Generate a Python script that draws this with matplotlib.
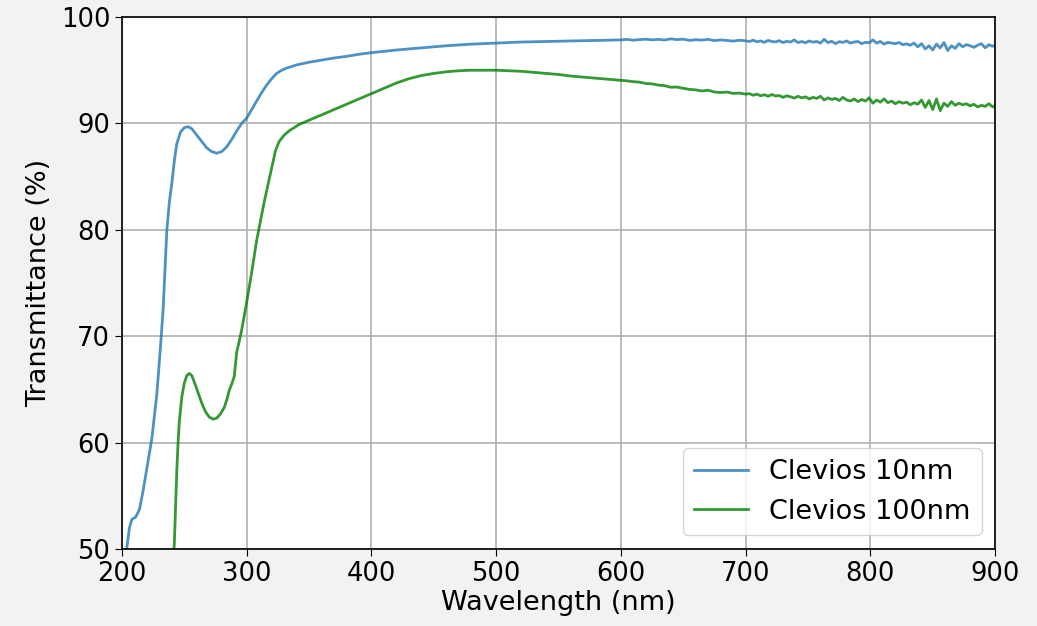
import numpy as np
import matplotlib
matplotlib.use("Agg")
import matplotlib.pyplot as plt

# Clevios 10nm
wl_10 = [203, 204, 206, 208, 211, 214, 217, 220, 224, 228, 231, 233, 236, 238, 240, 242, 244, 247,
         250, 253, 256, 260, 264, 268, 272, 276, 280, 284, 288, 292, 296, 300, 304, 308, 312, 316,
         320, 324, 328, 332, 336, 340, 350, 360, 370, 380, 390, 400, 420, 440, 460, 480, 500, 520,
         540, 560, 580, 600, 605, 610, 615, 620, 625, 630, 635, 640, 645, 650, 655, 660, 665, 670,
         675, 680, 685, 690, 695, 700,
         703, 706, 709, 712, 715, 718, 721, 724, 727, 730, 733, 736, 739, 742, 745, 748, 751, 754,
         757, 760, 763, 766, 769, 772, 775, 778, 781, 784, 787, 790, 793, 796, 799, 802, 805, 808,
         811, 814, 817, 820, 823, 826, 829, 832, 835, 838, 841, 844, 847, 850, 853, 856, 859, 862,
         865, 868, 871, 874, 877, 880, 883, 886, 889, 892, 895, 898, 900]
t_10 = [49.0, 50.2, 52.0, 52.8, 53.0, 53.7, 55.5, 57.6, 60.4, 64.6, 69.2, 72.5, 80.0, 82.6, 84.4,
        86.5, 88.1, 89.2, 89.6, 89.7, 89.5, 88.9, 88.3, 87.7, 87.35, 87.2, 87.35, 87.8, 88.5, 89.3,
        90.0, 90.5, 91.3, 92.1, 92.9, 93.6, 94.2, 94.7, 95.0, 95.2, 95.35, 95.5, 95.75, 95.95, 96.15,
        96.3, 96.5, 96.65, 96.9, 97.1, 97.3, 97.45, 97.55, 97.65, 97.7, 97.75, 97.8, 97.85, 97.9,
        97.82, 97.88, 97.92, 97.85, 97.9, 97.84, 97.95, 97.88, 97.92, 97.8, 97.87, 97.83, 97.9,
        97.78, 97.85, 97.8, 97.74, 97.82, 97.76,
        97.7, 97.82, 97.68, 97.75, 97.62, 97.8, 97.7, 97.66, 97.78, 97.6, 97.72, 97.65, 97.85, 97.6,
        97.7, 97.58, 97.75, 97.64, 97.7, 97.55, 97.9, 97.6, 97.72, 97.5, 97.68, 97.62, 97.75, 97.55,
        97.65, 97.7, 97.5, 97.62, 97.58, 97.85, 97.55, 97.7, 97.45, 97.62, 97.55, 97.5, 97.6, 97.4,
        97.48, 97.35, 97.55, 97.2, 97.5, 97.0, 97.3, 96.9, 97.45, 97.1, 97.6, 96.85, 97.3, 97.05,
        97.5, 97.2, 97.4, 97.3, 97.15, 97.35, 97.5, 97.1, 97.4, 97.25, 97.35]

# Clevios 100nm
wl_100 = [241, 242, 243, 244, 245, 246, 248, 250, 252, 254, 256, 258, 261, 264, 267, 270, 273, 276,
          279, 282, 284, 286, 288, 290, 292, 294, 296, 300, 304, 308, 311, 314, 317, 320, 323, 326,
          330, 334, 338, 342, 348, 354, 360, 366, 372, 378, 384, 390, 396, 402, 410, 420, 430, 440,
          450, 460, 470, 480, 490, 500, 510, 520, 530, 540, 550, 560, 570, 580, 590, 600,
          605, 610, 615, 620, 625, 630, 635, 640, 645, 650, 655, 660, 665, 670, 675, 680, 685, 690,
          695, 700,
          703, 706, 709, 712, 715, 718, 721, 724, 727, 730, 733, 736, 739, 742, 745, 748, 751, 754,
          757, 760, 763, 766, 769, 772, 775, 778, 781, 784, 787, 790, 793, 796, 799, 802, 805, 808,
          811, 814, 817, 820, 823, 826, 829, 832, 835, 838, 841, 844, 847, 850, 853, 856, 859, 862,
          865, 868, 871, 874, 877, 880, 883, 886, 889, 892, 895, 898, 900]
t_100 = [49.0, 50.5, 54.0, 57.5, 60.0, 62.0, 64.3, 65.6, 66.3, 66.5, 66.3, 65.7, 64.7, 63.7, 62.9,
         62.4, 62.2, 62.3, 62.7, 63.3, 64.0, 64.9, 65.5, 66.2, 68.5, 69.5, 70.6, 73.2, 76.0, 79.0,
         80.8, 82.6, 84.2, 85.8, 87.4, 88.3, 88.9, 89.3, 89.6, 89.9, 90.2, 90.5, 90.8, 91.1, 91.4,
         91.7, 92.0, 92.3, 92.6, 92.9, 93.3, 93.8, 94.2, 94.5, 94.7, 94.85, 94.95, 95.0, 95.0, 95.0,
         94.95, 94.9, 94.8, 94.7, 94.6, 94.45, 94.35, 94.25, 94.15, 94.05,
         94.0, 93.92, 93.88, 93.75, 93.72, 93.6, 93.55, 93.4, 93.42, 93.3, 93.2, 93.15, 93.05, 93.12,
         92.95, 92.9, 92.95, 92.82, 92.85, 92.75,
         92.8, 92.65, 92.75, 92.6, 92.7, 92.55, 92.72, 92.58, 92.62, 92.45, 92.6, 92.5, 92.38, 92.55,
         92.4, 92.5, 92.3, 92.45, 92.35, 92.55, 92.2, 92.4, 92.25, 92.35, 92.15, 92.45, 92.2, 92.1,
         92.3, 92.05, 92.25, 92.1, 92.4, 91.9, 92.2, 92.0, 92.3, 91.95, 92.1, 91.85, 92.05, 91.9,
         92.0, 91.75, 91.95, 91.8, 92.2, 91.5, 92.15, 91.3, 92.3, 91.2, 91.9, 91.6, 92.05, 91.7,
         91.9, 91.75, 91.85, 91.65, 91.8, 91.55, 91.7, 91.6, 91.85, 91.55, 91.7]

fig = plt.figure(figsize=(10.37, 6.26), dpi=100, facecolor="#f2f2f2")
ax = fig.add_axes([0.1176, 0.123, 0.842, 0.8498])

ax.plot(wl_10, t_10, color="#1f77b4", alpha=0.8, lw=2, label="Clevios 10nm")
ax.plot(wl_100, t_100, color="green", alpha=0.8, lw=2, label="Clevios 100nm")

ax.set_xlim(200, 900)
ax.set_ylim(50, 100)
ax.grid(True, lw=1.2)
ax.tick_params(labelsize=18.5, length=5)
for s in ax.spines.values():
    s.set_linewidth(1.2)
ax.set_xlabel("Wavelength (nm)", fontsize=19.5, labelpad=2)
ax.set_ylabel("Transmittance (%)", fontsize=19.5, labelpad=6)
ax.legend(loc="lower right", fontsize=19.5)

fig.savefig("out.png", dpi=100, facecolor=fig.get_facecolor())
